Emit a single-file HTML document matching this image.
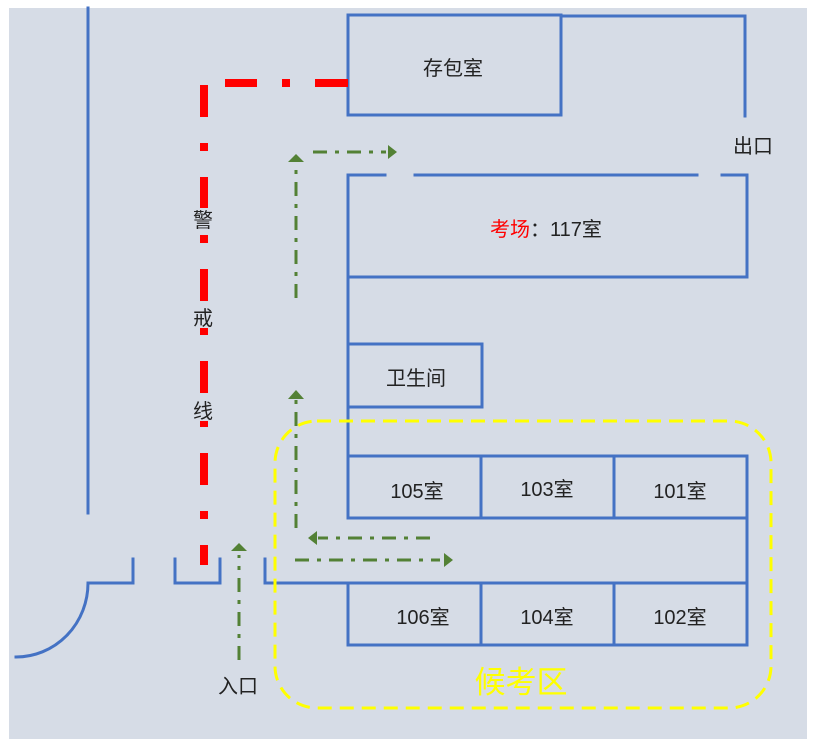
<!DOCTYPE html>
<html><head><meta charset="utf-8"><style>
body{margin:0;background:#fff;}
svg{display:block;}
text{font-family:"Liberation Sans","Noto Sans CJK SC",sans-serif;fill:#222;}
</style></head><body>
<svg width="821" height="746" viewBox="0 0 821 746" xmlns="http://www.w3.org/2000/svg">
<rect x="9" y="8" width="798" height="731" fill="#d6dce6"/>
<g stroke="#4472c4" stroke-width="3" fill="none" stroke-linecap="square">
<line x1="88" y1="8" x2="88" y2="513"/>
<polyline points="90,583 133,583 133,559"/>
<path d="M88,583 A72,74 0 0 1 16,657"/>
<polyline points="175,559 175,583 220,583 220,559"/>
<polyline points="265,559 265,583 747,583"/>
<rect x="348" y="15" width="213" height="100"/>
<polyline points="561,16 745,16 745,116"/>
<line x1="348" y1="175" x2="385" y2="175"/>
<line x1="415" y1="175" x2="697" y2="175"/>
<polyline points="722,175 747,175 747,277 348,277"/>
<line x1="348" y1="175" x2="348" y2="518"/>
<rect x="348" y="344" width="134" height="63"/>
<rect x="348" y="456" width="399" height="62"/>
<line x1="481" y1="456" x2="481" y2="518"/>
<line x1="614" y1="456" x2="614" y2="518"/>
<line x1="747" y1="518" x2="747" y2="583"/>
<rect x="348" y="583" width="399" height="62"/>
<line x1="481" y1="583" x2="481" y2="645"/>
<line x1="614" y1="583" x2="614" y2="645"/>
</g>
<rect x="275" y="421" width="496" height="287" rx="42" ry="42" fill="none" stroke="#ffff00" stroke-width="3" stroke-dasharray="14 8"/>
<g stroke="#ff0000" stroke-width="8" fill="none">
<path d="M225,83 H257 M282,83 H290 M315,83 H348" />
<line x1="204" y1="85" x2="204" y2="565" stroke-dasharray="32 26 8 26"/>
</g>
<g fill="#d6dce6">
<rect x="193" y="208" width="22" height="22"/>
<rect x="193" y="306" width="22" height="22"/>
<rect x="193" y="399" width="22" height="22"/>
</g>
<g stroke="#538135" stroke-width="3" fill="none" stroke-dasharray="14 8 4 8">
<line x1="296" y1="298" x2="296" y2="162"/>
<line x1="313" y1="152" x2="386" y2="152"/>
<line x1="296" y1="528" x2="296" y2="400"/>
<line x1="430" y1="538" x2="318" y2="538"/>
<line x1="295" y1="560" x2="440" y2="560"/>
<line x1="239" y1="660" x2="239" y2="555"/>
</g>
<g fill="#538135">
<polygon points="296,154 288,162 304,162"/>
<polygon points="397,152 388,145 388,159"/>
<polygon points="296,390 288,399 304,399"/>
<polygon points="308,538 317,531 317,545"/>
<polygon points="453,560 444,553 444,567"/>
<polygon points="239,543 231,551 247,551"/>
</g>
<g font-size="20" text-anchor="middle">
<text x="453" y="75">存包室</text>
<text x="753" y="153">出口</text>
<text x="546" y="236"><tspan style="fill:#ff0000">考场</tspan>：117室</text>
<text x="416" y="385">卫生间</text>
<text x="417" y="498">105室</text>
<text x="547" y="496">103室</text>
<text x="680" y="498">101室</text>
<text x="423" y="624">106室</text>
<text x="547" y="624">104室</text>
<text x="680" y="624">102室</text>
<text x="238" y="693">入口</text>
<text x="203" y="227">警</text>
<text x="203" y="325">戒</text>
<text x="203" y="418">线</text>
<text x="521" y="693" font-size="31" style="fill:#ffff00">候考区</text>
</g>
</svg>
</body></html>
